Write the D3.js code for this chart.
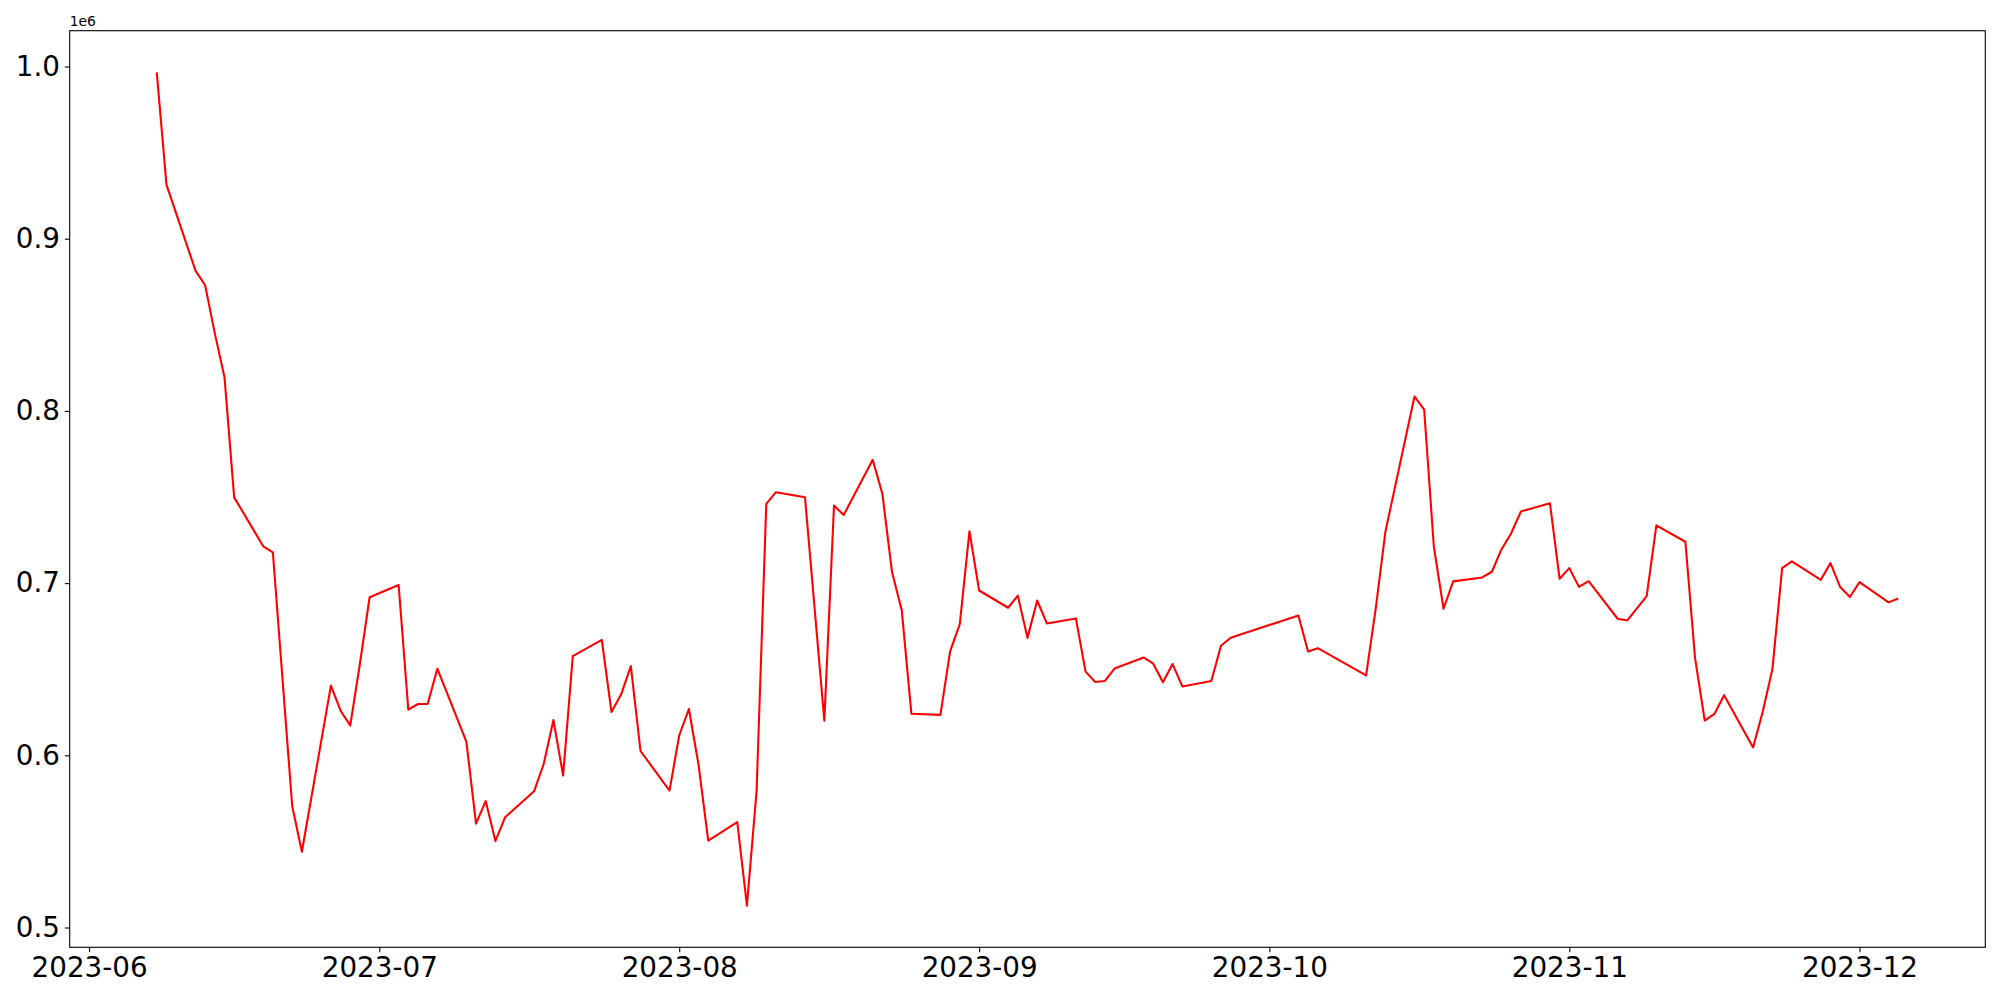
<!DOCTYPE html>
<html lang="en">
  <head>
    <meta charset="UTF-8" />
    <title>Series</title>
    <script src="https://d3js.org/d3.v7.min.js"></script>
    <style>
      body { margin: 0; background: #fff; }
      text { font-family: "DejaVu Sans", sans-serif; }
    </style>
  </head>

  <body>
    <svg width="2000" height="1000"></svg>
    <script>
      // values
      const dates = [
        "2023-06-08", "2023-06-09", "2023-06-12", "2023-06-13", "2023-06-14", "2023-06-15", "2023-06-16",
        "2023-06-19", "2023-06-20", "2023-06-22", "2023-06-23",
        "2023-06-26", "2023-06-27", "2023-06-28", "2023-06-29", "2023-06-30",
        "2023-07-03", "2023-07-04", "2023-07-05", "2023-07-06", "2023-07-07",
        "2023-07-10", "2023-07-11", "2023-07-12", "2023-07-13", "2023-07-14",
        "2023-07-17", "2023-07-18", "2023-07-19", "2023-07-20", "2023-07-21",
        "2023-07-24", "2023-07-25", "2023-07-26", "2023-07-27", "2023-07-28",
        "2023-07-31", "2023-08-01", "2023-08-02", "2023-08-03", "2023-08-04",
        "2023-08-07", "2023-08-08", "2023-08-09", "2023-08-10", "2023-08-11",
        "2023-08-14", "2023-08-16", "2023-08-17", "2023-08-18",
        "2023-08-21", "2023-08-22", "2023-08-23", "2023-08-24", "2023-08-25",
        "2023-08-28", "2023-08-29", "2023-08-30", "2023-08-31", "2023-09-01",
        "2023-09-04", "2023-09-05", "2023-09-06", "2023-09-07", "2023-09-08",
        "2023-09-11", "2023-09-12", "2023-09-13", "2023-09-14", "2023-09-15",
        "2023-09-18", "2023-09-19", "2023-09-20", "2023-09-21", "2023-09-22",
        "2023-09-25", "2023-09-26", "2023-09-27",
        "2023-10-04", "2023-10-05", "2023-10-06",
        "2023-10-11", "2023-10-12", "2023-10-13",
        "2023-10-16", "2023-10-17", "2023-10-18", "2023-10-19", "2023-10-20",
        "2023-10-23", "2023-10-24", "2023-10-25", "2023-10-26", "2023-10-27",
        "2023-10-30", "2023-10-31", "2023-11-01", "2023-11-02", "2023-11-03",
        "2023-11-06", "2023-11-07", "2023-11-09", "2023-11-10",
        "2023-11-13", "2023-11-14", "2023-11-15", "2023-11-16", "2023-11-17",
        "2023-11-20", "2023-11-21", "2023-11-22", "2023-11-23", "2023-11-24",
        "2023-11-27", "2023-11-28", "2023-11-29", "2023-11-30", "2023-12-01",
        "2023-12-04", "2023-12-05"
      ];

      const values = [
        996600, 931400, 881500, 873000, 845000, 819600, 749800,
        721400, 717800, 570400, 544000,
        640500, 625900, 617400, 653300, 691800,
        698900, 626500, 629800, 629800, 650300,
        608000, 560300, 573400, 550200, 564000,
        579100, 595100, 620500, 588300, 657600,
        667000, 625100, 635400, 651800, 602500,
        579500, 611500, 626900, 594500, 550400,
        561200, 512700, 579500, 746000, 752800,
        749900, 620100, 745000, 739500,
        771600, 751800, 706300, 684300, 624100,
        623500, 660400, 676200, 730100, 695700,
        685700, 692700, 668200, 689900, 676600,
        679500, 648600, 642600, 643200, 650400,
        656800, 653200, 642400, 653000, 640000,
        643100, 663600, 668300,
        681200, 660300, 662200,
        646400, 685500, 730000,
        808400, 800700, 721300, 685100, 701000,
        703300, 706600, 719700, 729000, 741600,
        746400, 702500, 708700, 697800, 701100,
        679300, 678300, 692400, 733500,
        724000, 656400, 620200, 624000, 634900,
        604600, 625500, 650200, 708700, 712600,
        701900, 711600, 697700, 691900, 700600,
        688800, 691100
      ];

      const yTicks = [0.5e6, 0.6e6, 0.7e6, 0.8e6, 0.9e6, 1.0e6];
      const offsetLabel = "1e6";

      const svg = d3.select("svg");
      const margin = { top: 30.7, right: 14.7, bottom: 52.7, left: 69.7 };
      const width = +svg.attr("width") - margin.left - margin.right;
      const height = +svg.attr("height") - margin.top - margin.bottom;
      const g = svg
        .append("g")
        .attr("transform", "translate(" + margin.left + "," + margin.top + ")");

      const parse = d3.timeParse("%Y-%m-%d");
      const data = dates.map((d, i) => ({ date: parse(d), value: values[i] }));

      // matplotlib-like 5% margins on both axes
      const [x0, x1] = d3.extent(data, (d) => +d.date);
      const [y0, y1] = d3.extent(data, (d) => d.value);
      const xp = (x1 - x0) * 0.05;
      const yp = (y1 - y0) * 0.05;

      const x = d3.scaleTime().domain([new Date(x0 - xp), new Date(x1 + xp)]).range([0, width]);
      const y = d3.scaleLinear().domain([y0 - yp, y1 + yp]).range([height, 0]);

      const fontSize = 27.78;
      const tick = 4.86;

      const xAxis = g
        .append("g")
        .attr("transform", "translate(0," + height + ")")
        .call(
          d3.axisBottom(x)
            .ticks(d3.timeMonth.every(1))
            .tickFormat(d3.timeFormat("%Y-%m"))
            .tickSize(tick)
            .tickPadding(tick)
        );

      const yAxis = g
        .append("g")
        .call(
          d3.axisLeft(y)
            .tickValues(yTicks)
            .tickFormat((d) => (d / 1e6).toFixed(1))
            .tickSize(tick)
            .tickPadding(tick)
        );

      [xAxis, yAxis].forEach((a) => {
        a.select(".domain").remove();
        a.selectAll(".tick line").attr("stroke", "#000").attr("stroke-width", 1.1);
        a.selectAll(".tick text")
          .attr("fill", "#000")
          .style("font-size", fontSize + "px")
          .style("font-family", "'DejaVu Sans', sans-serif");
      });

      g.append("path")
        .datum(data)
        .attr("fill", "none")
        .attr("stroke", "red")
        .attr("stroke-linejoin", "round")
        .attr("stroke-width", 2.08)
        .attr(
          "d",
          d3.line()
            .x((d) => x(d.date))
            .y((d) => y(d.value))
        );

      // frame
      g.append("rect")
        .attr("width", width)
        .attr("height", height)
        .attr("fill", "none")
        .attr("stroke", "#000")
        .attr("stroke-width", 1.1);

      g.append("text")
        .attr("x", 0)
        .attr("y", -5)
        .style("font-size", "13.9px")
        .text(offsetLabel);
    </script>
  </body>
</html>
